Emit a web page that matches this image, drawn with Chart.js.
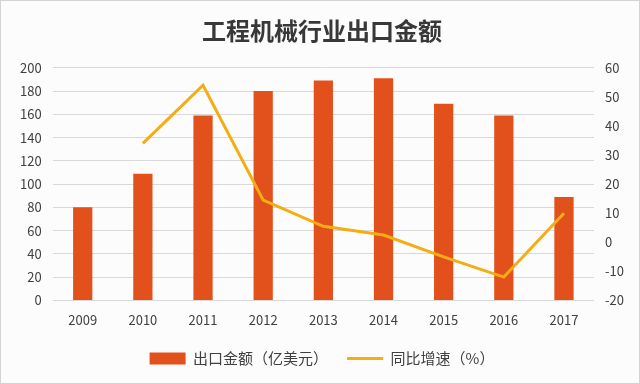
<!DOCTYPE html>
<html>
<head>
<meta charset="utf-8">
<script src="https://cdn.jsdelivr.net/npm/chart.js@4/dist/chart.umd.min.js"></script>
<style>
    html, body { margin: 0; padding: 0; background: #ffffff; }
    #wrap { width: 638px; height: 382px; border: 1px solid #d4d4d4; background: #fcfcfc; }
</style>
</head>
<body>
<div id="wrap"><canvas id="grafico" width="638" height="382"></canvas></div>
<script>
// datos
let anios = ["2009", "2010", "2011", "2012", "2013", "2014", "2015", "2016", "2017"];
let exportaciones = [80, 109, 159, 180, 189, 191, 169, 159, 89];   // 亿美元
let crecimiento = [null, 34, 54, 14.5, 5.5, 2.5, -5, -12, 10];      // %

let fuente = "'Noto Sans CJK SC', 'Microsoft YaHei', sans-serif";

let ctx = document.getElementById("grafico").getContext("2d");

new Chart(ctx, {
    type: "bar",
    data: {
        labels: anios,
        datasets: [
            {
                type: "line",
                label: "同比增速（%）",
                data: crecimiento,
                yAxisID: "y2",
                borderColor: "#f5ad14",
                backgroundColor: "#f5ad14",
                borderWidth: 3,
                pointRadius: 0,
                tension: 0,
                pointStyle: "line",
                order: 1
            },
            {
                label: "出口金额（亿美元）",
                data: exportaciones,
                yAxisID: "y",
                backgroundColor: "#e2501b",
                borderWidth: 0,
                barPercentage: 0.32,
                categoryPercentage: 1,
                pointStyle: "rect",
                order: 2
            }
        ]
    },
    options: {
        responsive: false,
        animation: false,
        layout: { padding: { left: 8, right: 4, top: 0, bottom: 7 } },
        plugins: {
            title: {
                display: true,
                text: "工程机械行业出口金额",
                color: "#383838",
                font: { family: fuente, size: 24, weight: "bold" },
                padding: { top: 15, bottom: 23 }
            },
            legend: {
                position: "bottom",
                reverse: true,
                labels: {
                    usePointStyle: true,
                    pointStyleWidth: 36,
                    boxHeight: 12,
                    color: "#404040",
                    font: { family: fuente, size: 15 },
                    padding: 19
                }
            },
            tooltip: { enabled: false }
        },
        scales: {
            x: {
                grid: { display: false },
                border: { display: false },
                ticks: { color: "#404040", font: { family: fuente, size: 13 }, padding: 4 }
            },
            y: {
                position: "left",
                min: 0,
                max: 200,
                ticks: { stepSize: 20, color: "#404040", font: { family: fuente, size: 13 }, padding: 11 },
                grid: { color: "#d9d9d9", lineWidth: 1, drawTicks: false },
                border: { display: false }
            },
            y2: {
                position: "right",
                min: -20,
                max: 60,
                ticks: { stepSize: 10, color: "#404040", font: { family: fuente, size: 13 }, padding: 11 },
                grid: { display: false, drawTicks: false },
                border: { display: false }
            }
        }
    }
});
</script>
</body>
</html>
